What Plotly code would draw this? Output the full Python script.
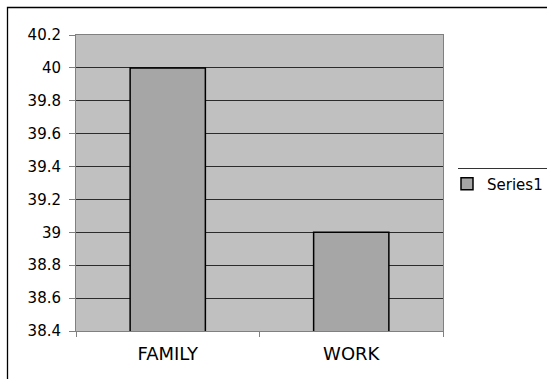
import plotly.graph_objects as go

categories = ["FAMILY", "WORK"]
series_name = "Series1"
values = [40.0, 39.0]
y_tick_values = [38.4, 38.6, 38.8, 39.0, 39.2, 39.4, 39.6, 39.8, 40.0, 40.2]
y_tick_labels = ["38.4", "38.6", "38.8", "39", "39.2", "39.4", "39.6", "39.8", "40", "40.2"]

W, H = 547, 379
L, R, T, B = 76, 443, 35, 331
pw, ph = R - L, B - T

def px_x(x):
    return (x - L) / pw

def px_y(y):
    return (B - y) / ph

fig = go.Figure()
fig.add_trace(go.Bar(
    x=categories, y=values, name=series_name,
    marker=dict(color="#A6A6A6", line=dict(color="#000000", width=1.5)),
    showlegend=True,
))

fig.update_layout(
    width=W, height=H,
    margin=dict(l=L, r=W - R, t=T, b=H - B, pad=0, autoexpand=False),
    paper_bgcolor="#FFFFFF",
    plot_bgcolor="#C0C0C0",
    bargap=0.59,
    font=dict(family="DejaVu Sans", color="#000000"),
    legend=dict(
        x=px_x(447), y=px_y(184), xanchor="left", yanchor="middle",
        font=dict(size=15, family="DejaVu Sans"),
        bgcolor="rgba(0,0,0,0)", borderwidth=0,
        itemwidth=30, tracegroupgap=0,
    ),
    xaxis=dict(
        type="category",
        showline=True, linecolor="#808080", linewidth=1, mirror=True,
        ticks="outside", tickson="boundaries", ticklen=5, tickcolor="#808080",
        tickfont=dict(size=18, family="DejaVu Sans"),
        ticklabelstandoff=6,
        showgrid=False,
    ),
    yaxis=dict(
        range=[38.4, 40.2],
        tickvals=y_tick_values, ticktext=y_tick_labels,
        showline=True, linecolor="#808080", linewidth=1, mirror=True,
        ticks="outside", ticklen=6, tickcolor="#808080",
        tickfont=dict(size=15, family="DejaVu Sans"),
        ticklabelstandoff=5,
        showgrid=True, gridcolor="#2B2B2B", gridwidth=1,
        zeroline=False,
    ),
    shapes=[
        dict(type="rect", xref="paper", yref="paper",
             x0=px_x(7.5), x1=px_x(549), y0=px_y(385), y1=px_y(7.5),
             line=dict(color="#000000", width=1.3), fillcolor="rgba(0,0,0,0)", layer="above"),
        dict(type="line", xref="paper", yref="paper",
             x0=px_x(458), x1=px_x(549), y0=px_y(168.5), y1=px_y(168.5),
             line=dict(color="#333333", width=1)),
    ],
)

fig.write_html("out.html")
